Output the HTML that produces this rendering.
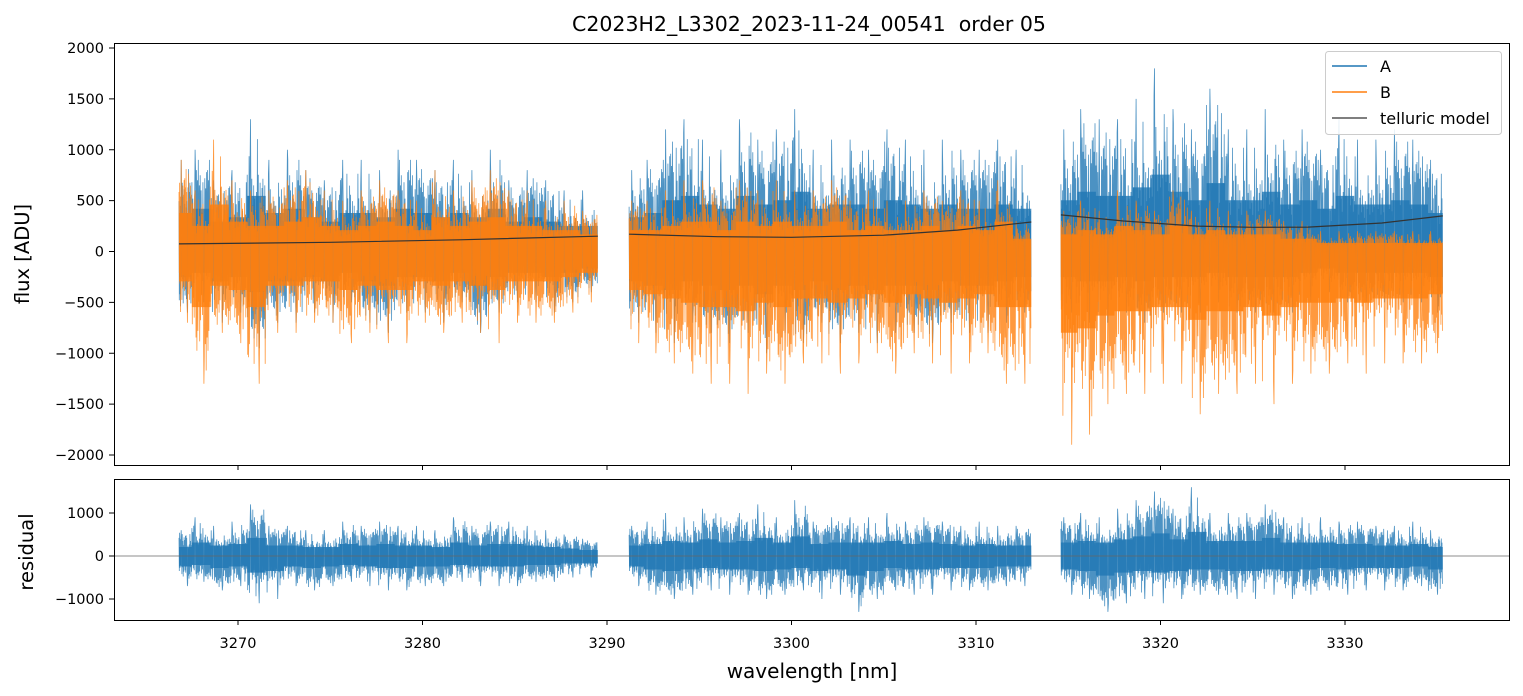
<!DOCTYPE html>
<html><head><meta charset="utf-8">
<style>
html,body{margin:0;padding:0;background:#fff;}
svg{display:block;font-family:"DejaVu Sans","Liberation Sans",sans-serif;}
</style></head>
<body>
<svg id="chart" width="1523" height="696" viewBox="0 0 1523 696" xmlns="http://www.w3.org/2000/svg">
  <text x="809" y="31" font-size="20.5" text-anchor="middle" xml:space="preserve">C2023H2_L3302_2023-11-24_00541  order 05</text>
  <g id="main"></g>
  <g id="resid"></g>
  <text transform="translate(29,254) rotate(-90)" font-size="19.5" text-anchor="middle">flux [ADU]</text>
  <text transform="translate(33,552) rotate(-90)" font-size="19.5" text-anchor="middle">residual</text>
  <text x="812" y="678" font-size="20" text-anchor="middle">wavelength [nm]</text>
  <g>
    <rect x="1325.5" y="51.5" width="176" height="83" rx="3" fill="#fff" fill-opacity="0.85" stroke="#ccc"/>
    <g><line x1="1332" y1="66" x2="1367" y2="66" stroke="#1f77b4" stroke-width="1.5"/><text x="1380" y="72" font-size="16">A</text></g>
    <g><line x1="1332" y1="92" x2="1367" y2="92" stroke="#ff7f0e" stroke-width="1.5"/><text x="1380" y="98" font-size="16">B</text></g>
    <g><line x1="1332" y1="118" x2="1367" y2="118" stroke="#555" stroke-width="1.5"/><text x="1380" y="124" font-size="16">telluric model</text></g>
  </g>
</svg>
<script>
const segStart=[3266.8,3291.2,3314.6];
const segEnd=[3289.5,3313.0,3335.3];
const segW=[
 [3267,3268,3269,3270,3271,3272,3273,3274,3275,3276,3277,3278,3279,3280,3281,3282,3283,3284,3285,3286,3287,3288,3289],
 [3291.5,3292.5,3293.5,3294.5,3295.5,3296.5,3297.5,3298.5,3299.5,3300.5,3301.5,3302.5,3303.5,3304.5,3305.5,3306.5,3307.5,3308.5,3309.5,3310.5,3311.5,3312.5],
 [3315,3316,3317,3318,3319,3320,3321,3322,3323,3324,3325,3326,3327,3328,3329,3330,3331,3332,3333,3334,3335]
];
const aHi=[
 [900,1000,700,800,1300,900,1000,800,700,900,900,800,1000,900,800,900,800,1000,700,800,700,600,600],
 [800,900,1200,1300,1100,1000,1300,1100,1200,1400,1000,1100,1100,1000,1200,1100,1000,1100,1000,1000,1100,1000],
 [1200,1400,1300,1300,1500,1800,1400,1200,1600,1200,1200,1400,1100,1200,1000,1300,1100,1100,1200,1100,900]];
const aLo=[
 [-600,-500,-700,-600,-950,-700,-700,-600,-700,-500,-700,-800,-600,-600,-700,-500,-800,-600,-500,-500,-600,-500,-400],
 [-700,-800,-900,-700,-800,-900,-800,-1000,-800,-900,-700,-900,-800,-900,-800,-800,-900,-700,-800,-800,-700,-600],
 [-600,-700,-700,-600,-700,-600,-600,-600,-500,-600,-600,-600,-600,-500,-400,-500,-500,-500,-500,-500,-600]];
const bHi=[
 [900,600,1100,700,600,600,700,800,600,500,600,700,600,500,800,600,700,800,600,600,500,500,400],
 [500,500,600,700,700,500,700,600,700,600,600,700,500,600,500,500,600,500,600,500,700,300],
 [400,500,400,600,500,400,600,400,500,400,400,400,300,300,200,200,200,200,200,200,200]];
const bLo=[
 [-700,-1300,-800,-900,-1300,-800,-800,-700,-700,-900,-800,-900,-900,-700,-800,-700,-800,-900,-700,-700,-700,-600,-500],
 [-900,-1000,-1100,-1200,-1300,-1300,-1400,-1200,-1300,-1100,-1100,-1200,-1100,-1000,-1200,-1000,-1100,-1200,-1100,-1000,-1300,-1300],
 [-1900,-1800,-1500,-1400,-1400,-1300,-1300,-1600,-1400,-1400,-1300,-1500,-1300,-1200,-1200,-1100,-1200,-1100,-1100,-1100,-1000]];
const rHi=[
 [600,900,700,800,1200,700,700,600,600,800,700,800,700,700,600,900,700,800,800,700,600,500,400],
 [700,800,1000,900,1100,900,1000,1200,900,1300,800,900,900,900,1000,800,900,800,700,800,700,700],
 [900,1000,900,1100,1300,1500,1100,1600,1000,1000,1000,1200,900,900,900,800,800,700,700,800,600]];
const rLo=[
 [-700,-600,-800,-700,-1100,-1000,-700,-800,-700,-600,-700,-800,-800,-700,-700,-600,-700,-700,-700,-600,-600,-500,-500],
 [-700,-900,-1000,-900,-800,-900,-900,-1000,-900,-800,-1000,-900,-1300,-1000,-800,-900,-900,-800,-800,-800,-700,-700],
 [-900,-1000,-1300,-1100,-1000,-1100,-1000,-900,-900,-1000,-1000,-900,-1000,-900,-800,-900,-800,-800,-800,-700,-900]];
const tellW=[[3266.8,3275,3282,3289.5],[3291.2,3296,3300,3305,3309,3313],[3314.6,3318,3322,3325,3328,3332,3335.3]];
const tellV=[[75,90,115,150],[170,145,140,160,210,290],[360,300,250,238,240,280,350]];
const xTicks=[3270,3280,3290,3300,3310,3320,3330];
const yTicks=[2000,1500,1000,500,0,-500,-1000,-1500,-2000];
const rTicks=[1000,0,-1000];

const NS="http://www.w3.org/2000/svg";
const X=w=>238+(w-3270)*18.45;
const Y=v=>251.5-v*0.10175;
const R=v=>556-v*0.043;
function mk(tag,attrs,parent){const e=document.createElementNS(NS,tag);for(const k in attrs)e.setAttribute(k,attrs[k]);parent.appendChild(e);return e;}
const main=document.getElementById('main'), resid=document.getElementById('resid');
const pat=[0.55,0.8,0.35,0.7,0.5,0.9,0.4,0.65,0.3,0.75,0.45,0.6,0.85,0.38,0.58,0.68,0.42,0.52,0.72,0.33,0.62,0.48,0.78];
function band(parent,hiArr,loArr,yf,color,core,name,shift){
  for(let s=0;s<3;s++){
    const w=segW[s];
    let poly=[];
    for(let i=0;i<w.length;i++){poly.push(X(Math.max(segStart[s],w[i]-0.5)).toFixed(1)+','+yf(hiArr[s][i]*core).toFixed(1));poly.push(X(Math.min(segEnd[s],w[i]+0.5)).toFixed(1)+','+yf(hiArr[s][i]*core).toFixed(1));}
    for(let i=w.length-1;i>=0;i--){poly.push(X(Math.min(segEnd[s],w[i]+0.5)).toFixed(1)+','+yf(loArr[s][i]*core).toFixed(1));poly.push(X(Math.max(segStart[s],w[i]-0.5)).toFixed(1)+','+yf(loArr[s][i]*core).toFixed(1));}
    const pg=mk('polygon',{points:poly.join(' '),fill:color,'fill-opacity':0.8},parent);
    
    
    let pts=[];
    let c=shift;
    for(let i=0;i<w.length;i++){
      const a=Math.max(segStart[s],w[i]-0.5), b=Math.min(segEnd[s],w[i]+0.5);
      const n=40;
      for(let k=0;k<n;k++){
        const xx=a+(b-a)*k/n;
        let v;
        if(k===7) v=hiArr[s][i]; else if(k===26) v=loArr[s][i];
        else { const f=pat[(c++)%pat.length]; v=(k%2===0? hiArr[s][i]:loArr[s][i])*f; }
        pts.push(X(xx).toFixed(1)+','+yf(v).toFixed(1));
      }
    }
    const pl=mk('polyline',{points:pts.join(' '),fill:'none',stroke:color,'stroke-width':0.8,'stroke-opacity':0.8},parent);
    
    
  }
}
const clip=mk('clipPath',{id:'c1'},main); mk('rect',{x:114,y:43,width:1395,height:422},clip);
const gA=mk('g',{'clip-path':'url(#c1)'},main);
band(gA,aHi,aLo,Y,'#1f77b4',0.42,'series-a',0);
band(gA,bHi,bLo,Y,'#ff7f0e',0.42,'series-b',7);
for(let s=0;s<3;s++){
  const t=mk('polyline',{points:tellW[s].map((w,i)=>X(w).toFixed(1)+','+Y(tellV[s][i]).toFixed(1)).join(' '),fill:'none',stroke:'#333','stroke-width':1.2},gA);
  
  
}
mk('rect',{x:114.5,y:43.5,width:1395,height:422,fill:'none',stroke:'#000','stroke-width':1},main);
yTicks.forEach(v=>{
  mk('line',{x1:109,x2:114,y1:Y(v),y2:Y(v),stroke:'#000'},main);
  const t=mk('text',{x:104,y:Y(v)+5,'font-size':14.5,'text-anchor':'end'},main);
  t.textContent=(v<0?'\u2212'+(-v):v);
  
  
});
xTicks.forEach(v=>mk('line',{x1:X(v),x2:X(v),y1:465,y2:470,stroke:'#000'},main));
const clip2=mk('clipPath',{id:'c2'},resid); mk('rect',{x:114,y:479,width:1395,height:141},clip2);
const gR=mk('g',{'clip-path':'url(#c2)'},resid);
band(gR,rHi,rLo,R,'#1f77b4',0.35,'residual',3);
mk('line',{x1:114,x2:1509,y1:R(0),y2:R(0),stroke:'#666','stroke-width':0.8},gR);
mk('rect',{x:114.5,y:479.5,width:1395,height:141,fill:'none',stroke:'#000'},resid);
rTicks.forEach(v=>{
  mk('line',{x1:109,x2:114,y1:R(v),y2:R(v),stroke:'#000'},resid);
  const t=mk('text',{x:104,y:R(v)+5,'font-size':14.5,'text-anchor':'end'},resid);
  t.textContent=(v<0?'\u2212'+(-v):v);
  
  
});
xTicks.forEach(v=>{
  mk('line',{x1:X(v),x2:X(v),y1:620,y2:625,stroke:'#000'},resid);
  const t=mk('text',{x:X(v),y:648,'font-size':14.5,'text-anchor':'middle'},resid);
  t.textContent=v;
  
  
});
</script>
</body></html>
